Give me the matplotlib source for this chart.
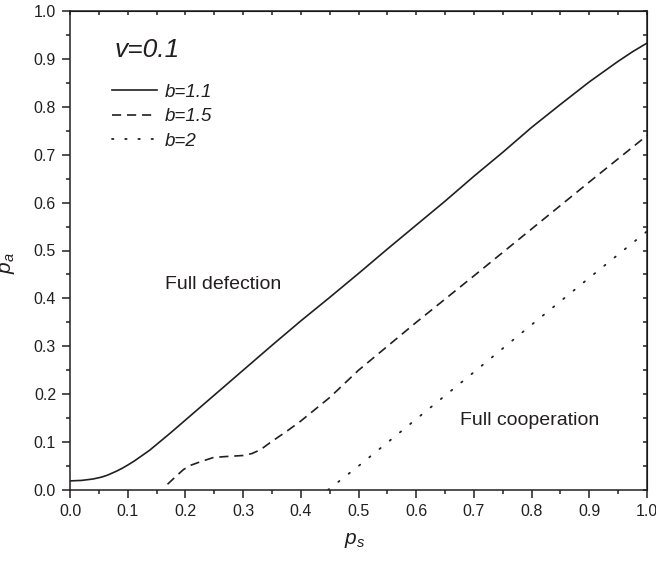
import matplotlib
matplotlib.use("Agg")
import matplotlib.pyplot as plt
import numpy as np

plt.rcParams['font.family'] = ['Liberation Sans', 'DejaVu Sans']
plt.rcParams['mathtext.fontset'] = 'custom'
plt.rcParams['mathtext.it'] = 'Liberation Sans:italic'
plt.rcParams['mathtext.rm'] = 'Liberation Sans'

# data
ps_b11 = [0.0, 0.02, 0.04, 0.055, 0.065, 0.08, 0.09, 0.1, 0.112, 0.125, 0.138, 0.15, 0.175,
          0.2, 0.25, 0.3, 0.35, 0.4, 0.45, 0.5, 0.55, 0.6, 0.65, 0.7, 0.75, 0.8, 0.85,
          0.9, 0.95, 0.975, 1.0]
pa_b11 = [0.019, 0.02, 0.023, 0.027, 0.031, 0.039, 0.045, 0.052, 0.061, 0.072, 0.083, 0.095,
          0.12, 0.146, 0.198, 0.25, 0.302, 0.353, 0.402, 0.452, 0.503, 0.553, 0.603, 0.655,
          0.705, 0.757, 0.805, 0.852, 0.895, 0.915, 0.933]

ps_b15 = [0.169, 0.185, 0.197, 0.21, 0.226, 0.249, 0.272, 0.3, 0.315, 0.33, 0.347, 0.376,
          0.4, 0.45, 0.5, 0.6, 0.7, 0.8, 0.9, 1.0]
pa_b15 = [0.012, 0.03, 0.043, 0.052, 0.059, 0.068, 0.07, 0.072, 0.076, 0.084, 0.099, 0.123,
          0.144, 0.193, 0.25, 0.35, 0.447, 0.545, 0.643, 0.74]

ps_b2 = [0.447, 0.5, 0.6, 0.7, 0.8, 0.9, 1.0]
pa_b2 = [0.0, 0.05, 0.148, 0.246, 0.345, 0.443, 0.54]

ink = '#231f20'

fig = plt.figure(figsize=(6.56, 5.61), dpi=100)
ax = fig.add_axes([70 / 656, 71 / 561, 577 / 656, 479 / 561])

ax.plot(ps_b11, pa_b11, color=ink, lw=1.2, label='b=1.1')
ax.plot(ps_b15, pa_b15, color=ink, lw=1.2, linestyle=(0, (5.5, 3.5)), label='b=1.5')
ax.plot(ps_b2, pa_b2, color=ink, lw=1.3, linestyle=(0, (0.8, 6.5)),
        dash_capstyle='round', label='b=2')

ax.set_xlim(0, 1)
ax.set_ylim(0, 1)
ax.set_xticks(np.arange(0, 1.01, 0.1))
ax.set_yticks(np.arange(0, 1.01, 0.1))
ax.set_xticks(np.arange(0, 1.01, 0.05), minor=True)
ax.set_yticks(np.arange(0, 1.01, 0.05), minor=True)
ax.xaxis.set_major_formatter(matplotlib.ticker.FormatStrFormatter('%.1f'))
ax.yaxis.set_major_formatter(matplotlib.ticker.FormatStrFormatter('%.1f'))
ax.tick_params(which='major', direction='out', length=6, width=1.1, labelsize=11.5,
               colors=ink, pad=4)
ax.tick_params(which='minor', direction='out', length=3, width=1.1, colors=ink)
for s in ax.spines.values():
    s.set_linewidth(1.1)
    s.set_color(ink)

# inward ticks on top and right
top = ax.secondary_xaxis('top')
top.set_xticks(np.arange(0, 1.01, 0.05))
top.tick_params(direction='in', length=3, width=1.1, labeltop=False, colors=ink)
right = ax.secondary_yaxis('right')
right.set_yticks(np.arange(0, 1.01, 0.05))
right.tick_params(direction='in', length=3, width=1.1, labelright=False, colors=ink)

ax.set_xlabel('$p_s$', fontsize=15, color=ink)
ax.set_ylabel('$p_a$', fontsize=15, color=ink)
ax.xaxis.set_label_coords(0.494, -0.085)
ax.yaxis.set_label_coords(-0.092, 0.474)

ax.text(0.078, 0.918, 'v=0.1', fontsize=19, style='italic', color=ink, va='center')
ax.text(0.165, 0.428, 'Full defection', fontsize=14, color=ink, va='center')
ax.text(0.676, 0.145, 'Full cooperation', fontsize=14, color=ink, va='center')

leg = ax.legend(loc='upper left', bbox_to_anchor=(0.06, 0.864), frameon=False,
                prop={'style': 'italic', 'size': 13.5}, handlelength=2.4,
                handletextpad=0.4, labelspacing=0.4, borderaxespad=0)
for t in leg.get_texts():
    t.set_color(ink)

fig.savefig('out.png', dpi=100)
